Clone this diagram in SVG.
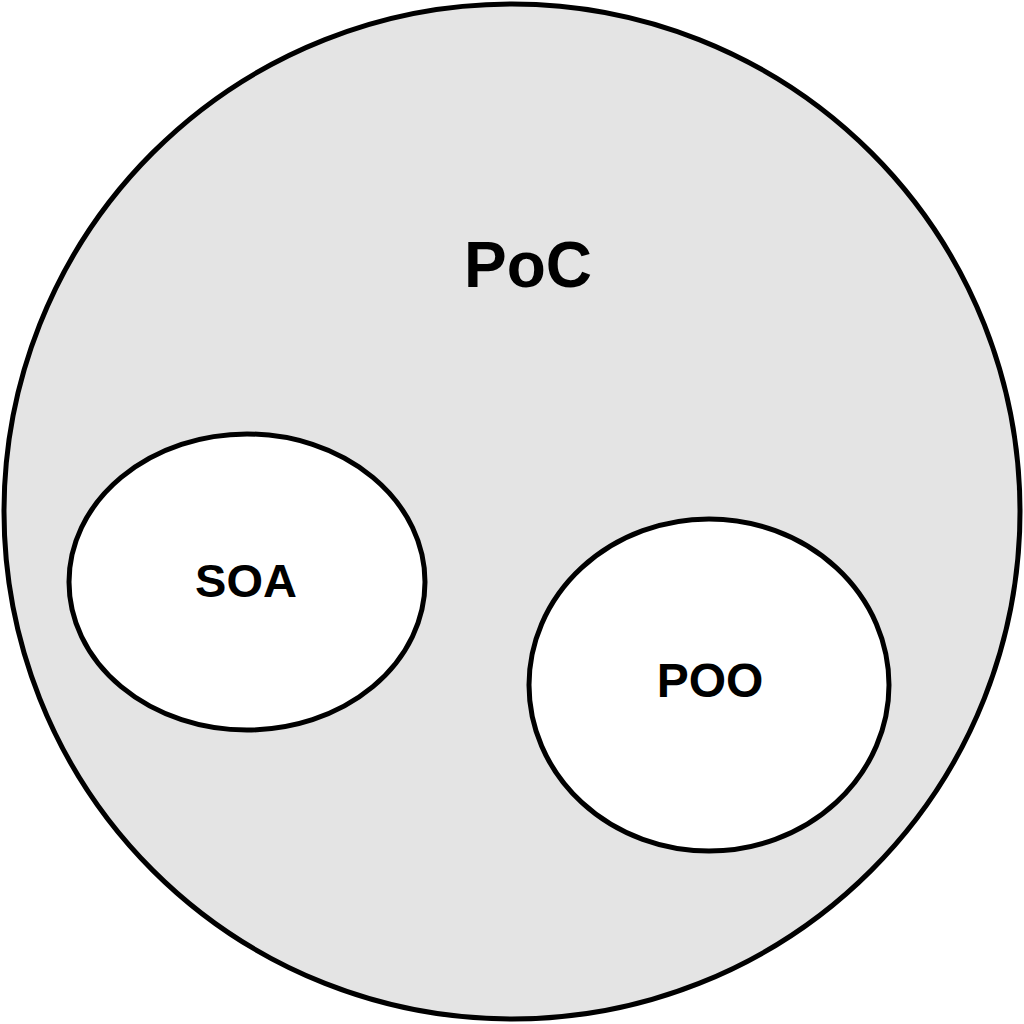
<svg xmlns="http://www.w3.org/2000/svg" width="1024" height="1024" viewBox="0 0 1024 1024">
<style>
.shape{stroke:#000;stroke-width:5}
.lbl{font-family:"Liberation Sans",Arial,sans-serif;font-weight:bold;text-anchor:middle;fill:#000}
</style>
<rect width="1024" height="1024" fill="#fff"/>
<g id="poc">
<ellipse class="shape" cx="512" cy="511.5" rx="508" ry="507.5" fill="#e4e4e4"/>
<text class="lbl" x="528" y="287" font-size="64">PoC</text>
</g>
<g id="soa">
<ellipse class="shape" cx="247" cy="582" rx="178" ry="148" fill="#fff"/>
<text class="lbl" x="246" y="597" font-size="47">SOA</text>
</g>
<g id="poo">
<ellipse class="shape" cx="709" cy="685" rx="180" ry="166" fill="#fff"/>
<text class="lbl" x="710" y="697" font-size="48">POO</text>
</g>
<g id="connectors"/>
</svg>
